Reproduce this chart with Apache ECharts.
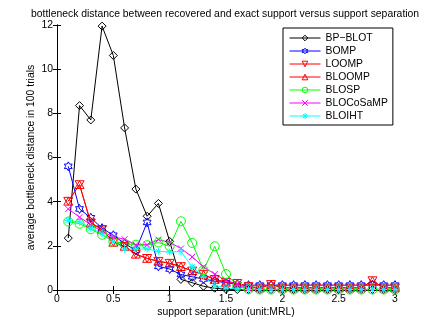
<!DOCTYPE html>
<html>
<head>
<meta charset="utf-8">
<script src="https://cdn.jsdelivr.net/npm/echarts@6/dist/echarts.min.js"></script>
<style>
  html, body { margin: 0; padding: 0; background: #fff; }
  #chart { width: 436px; height: 328px; }
</style>
</head>
<body>
<div id="chart"></div>
<script>
// support separation (unit: MRL)
const separation = [0.1, 0.2, 0.3, 0.4, 0.5, 0.6, 0.7, 0.8, 0.9, 1.0,
  1.1, 1.2, 1.3, 1.4, 1.5, 1.6, 1.7, 1.8, 1.9, 2.0,
  2.1, 2.2, 2.3, 2.4, 2.5, 2.6, 2.7, 2.8, 2.9, 3.0]

const bpBlot = [2.35, 8.35, 7.7, 11.95, 10.62, 7.34, 4.57, 3.34, 3.92, 2.2,
  0.48, 0.33, 0.17, 0.08, 0.03, 0.02, 0.02, 0.02, 0.02, 0.02,
  0.02, 0.02, 0.02, 0.02, 0.02, 0.02, 0.02, 0.02, 0.02, 0.02]
const bomp = [5.6, 3.67, 3.27, 2.8, 2.48, 2.1, 1.8, 3.06, 1.07, 0.95,
  0.7, 0.6, 0.5, 0.4, 0.33, 0.25, 0.22, 0.22, 0.22, 0.22,
  0.22, 0.22, 0.22, 0.22, 0.22, 0.22, 0.22, 0.22, 0.22, 0.22]
const loomp = [4.02, 4.77, 3.04, 2.74, 2.16, 1.98, 1.62, 1.43, 1.3, 1.21,
  1.06, 0.86, 0.7, 0.48, 0.35, 0.3, 0.15, 0.1, 0.25, 0.1,
  0.1, 0.1, 0.1, 0.1, 0.1, 0.1, 0.1, 0.42, 0.1, 0.1]
const bloomp = [4.02, 4.77, 3.04, 2.74, 2.16, 1.98, 1.62, 1.43, 1.3, 1.21,
  1.06, 0.86, 0.7, 0.48, 0.35, 0.3, 0.15, 0.1, 0.25, 0.1,
  0.1, 0.1, 0.1, 0.1, 0.1, 0.1, 0.1, 0.42, 0.1, 0.1]
const blosp = [3.1, 3.0, 2.75, 2.5, 2.2, 2.1, 2.05, 2.03, 2.15, 1.98,
  3.11, 2.13, 0.9, 1.98, 0.72, 0.2, 0.03, 0.02, 0.02, 0.02,
  0.02, 0.02, 0.02, 0.02, 0.02, 0.02, 0.02, 0.02, 0.02, 0.02]
const blocosamp = [3.67, 3.3, 2.95, 2.65, 2.4, 2.3, 2.05, 2.05, 2.28, 2.16,
  1.88, 1.5, 1.05, 0.72, 0.43, 0.28, 0.05, 0.03, 0.03, 0.03,
  0.03, 0.03, 0.03, 0.03, 0.03, 0.03, 0.03, 0.03, 0.03, 0.03]
const bloiht = [3.15, 3.08, 2.8, 2.55, 2.2, 1.85, 1.85, 1.86, 1.75, 1.72,
  1.74, 1.05, 0.6, 0.2, 0.1, 0.05, 0.02, 0.02, 0.02, 0.02,
  0.02, 0.02, 0.02, 0.02, 0.02, 0.02, 0.02, 0.02, 0.02, 0.02]

const xTicks = [0, 0.5, 1, 1.5, 2, 2.5, 3]
const yTicks = [0, 2, 4, 6, 8, 10, 12]

// marker shapes (matlab style, not filled)
const DIAMOND = 'path://M5,0L10,5L5,10L0,5Z'
const HEXAGRAM = 'path://M5,0L6.44,2.5L9.33,2.5L7.89,5L9.33,7.5L6.44,7.5L5,10L3.56,7.5L0.67,7.5L2.11,5L0.67,2.5L3.56,2.5Z'
const TRI_DOWN = 'path://M0,0L10,0L5,8.66Z'
const TRI_UP = 'path://M5,0L10,8.66L0,8.66Z'
const CIRCLE = 'path://M10,5A5,5,0,1,1,0,5A5,5,0,1,1,10,5Z'
const CROSS = 'path://M0,0L10,10M10,0L0,10'
const ASTERISK = 'path://M5,0L5,10M0,5L10,5M1.5,1.5L8.5,8.5M8.5,1.5L1.5,8.5'

const FONT = '"Liberation Sans", Arial, sans-serif'
const FS = 10.4

const makeSeries = (name, values, color, symbol, size) => ({
  name,
  type: 'line',
  data: separation.map((x, i) => [x, values[i]]),
  symbol,
  symbolSize: size,
  symbolKeepAspect: true,
  lineStyle: { color, width: 1 },
  itemStyle: { color: 'rgba(0,0,0,0)', borderColor: color, borderWidth: 1 },
  emphasis: { disabled: true }
})

const chart = echarts.init(document.getElementById('chart'))

const option = {
  animation: false,
  backgroundColor: '#fff',
  textStyle: { fontFamily: FONT },
  title: {
    text: 'bottleneck distance between recovered and exact support versus support separation',
    left: 31,
    top: 9,
    padding: 0,
    textStyle: { fontSize: FS, fontWeight: 'normal', color: '#000', fontFamily: FONT }
  },
  grid: { left: 57, right: 41, top: 25, bottom: 38 },
  legend: {
    orient: 'vertical',
    left: 283,
    top: 28,
    padding: [4, 5, 3, 6],
    itemWidth: 31,
    itemHeight: 7,
    itemGap: 1,
    backgroundColor: '#fff',
    borderColor: '#000',
    borderWidth: 1,
    lineStyle: { width: 1 },
    itemStyle: { color: 'rgba(0,0,0,0)', borderColor: 'inherit', borderWidth: 1 },
    textStyle: { fontSize: FS, lineHeight: 12, color: '#000', fontFamily: FONT }
  },
  xAxis: [
    {
      type: 'value', min: 0, max: 3, interval: 0.5,
      name: 'support separation (unit:MRL)',
      nameLocation: 'middle', nameGap: 17, nameMoveOverlap: false,
      nameTextStyle: { fontSize: FS, color: '#000', fontFamily: FONT },
      axisLine: { lineStyle: { color: '#000', width: 1 } },
      axisTick: { inside: true, length: 4, lineStyle: { color: '#000' } },
      axisLabel: {
        fontSize: FS, color: '#000', margin: 4,
        customValues: xTicks,
        formatter: v => String(v)
      },
      splitLine: { show: false }
    },
    {
      type: 'value', min: 0, max: 3, interval: 0.5, position: 'top',
      axisLine: { show: true, lineStyle: { color: '#000', width: 1 } },
      axisTick: { show: true, inside: true, length: 4, lineStyle: { color: '#000' } },
      axisLabel: { show: false },
      splitLine: { show: false }
    }
  ],
  yAxis: [
    {
      type: 'value', min: 0, max: 12, interval: 2,
      name: 'average bottleneck distance in 100 trials',
      nameLocation: 'middle', nameGap: 21, nameMoveOverlap: false,
      nameTextStyle: { fontSize: FS, color: '#000', fontFamily: FONT },
      axisLine: { show: true, lineStyle: { color: '#000', width: 1 } },
      axisTick: { show: true, inside: true, length: 4, lineStyle: { color: '#000' } },
      axisLabel: { fontSize: FS, color: '#000', margin: 4, customValues: yTicks },
      splitLine: { show: false }
    },
    {
      type: 'value', min: 0, max: 12, interval: 2, position: 'right',
      axisLine: { show: true, lineStyle: { color: '#000', width: 1 } },
      axisTick: { show: true, inside: true, length: 4, lineStyle: { color: '#000' } },
      axisLabel: { show: false },
      splitLine: { show: false }
    }
  ],
  series: [
    makeSeries('BP\u2212BLOT', bpBlot, '#000000', DIAMOND, 8),
    makeSeries('BOMP', bomp, '#0000ff', HEXAGRAM, 9),
    makeSeries('LOOMP', loomp, '#ff0000', TRI_DOWN, 9),
    makeSeries('BLOOMP', bloomp, '#ff0000', TRI_UP, 9),
    makeSeries('BLOSP', blosp, '#00ff00', CIRCLE, 9),
    makeSeries('BLOCoSaMP', blocosamp, '#ff00ff', CROSS, 6),
    makeSeries('BLOIHT', bloiht, '#00ffff', ASTERISK, 7)
  ]
}

option && chart.setOption(option)
</script>
</body>
</html>
